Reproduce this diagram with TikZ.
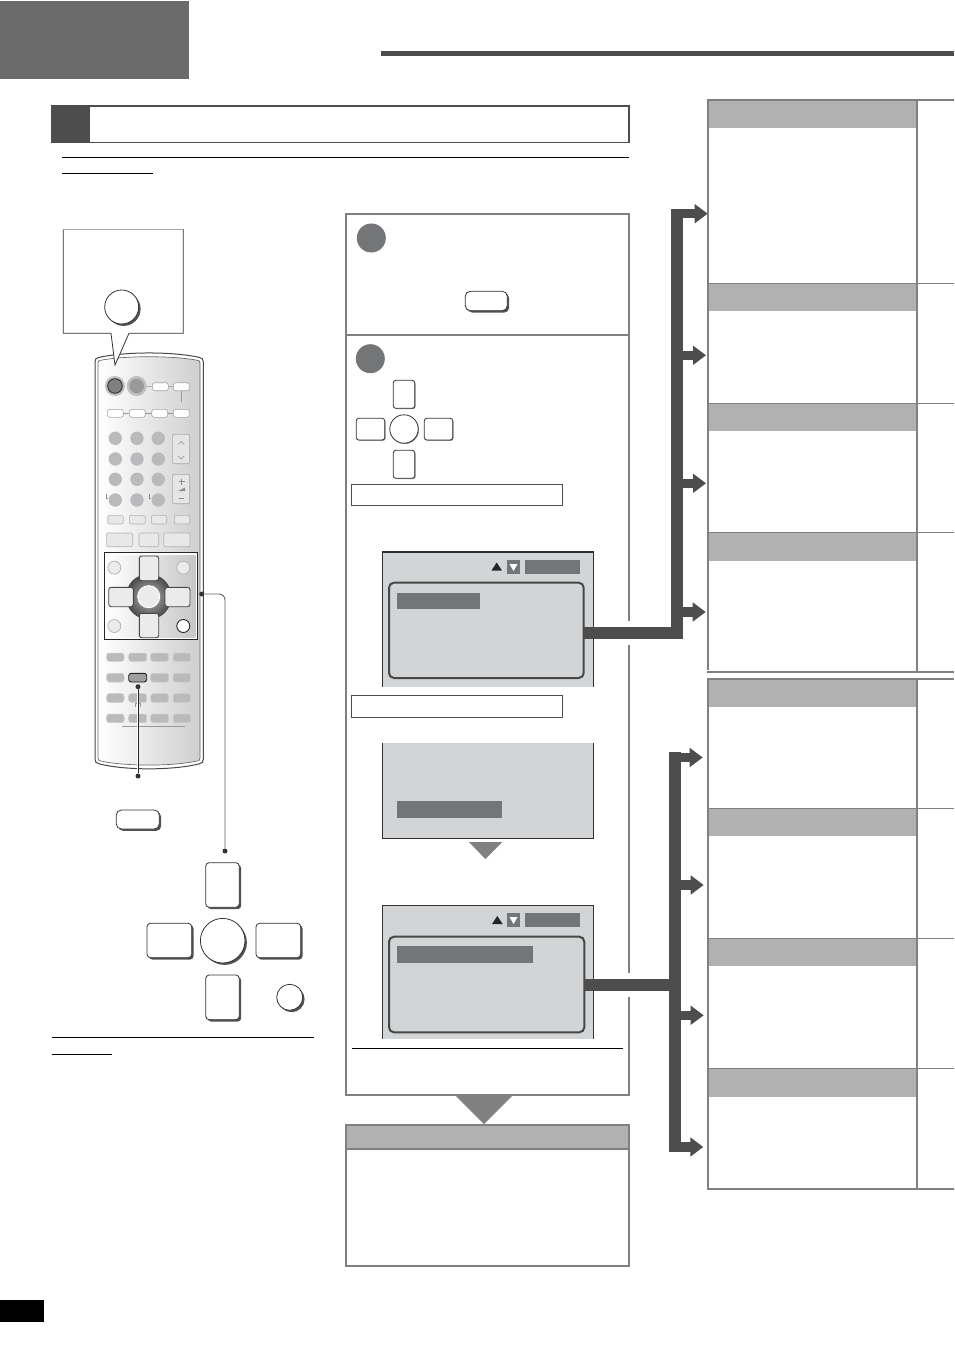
\documentclass[tikz,border=0pt]{standalone}
\usetikzlibrary{shadows,arrows.meta,calc}
\definecolor{dkbar}{HTML}{4D4D4D}
\definecolor{pnl}{HTML}{808080}
\definecolor{hdr}{HTML}{B1B1B1}
\definecolor{scr}{HTML}{D3D4D6}
\definecolor{hil}{HTML}{747577}
\definecolor{rmgray}{HTML}{B9BABC}
\tikzset{
  pxrect/.style={rectangle,inner sep=0pt,outer sep=0pt},
  panel/.style={draw=pnl,line width=2pt,fill=white},
  headband/.style={fill=hdr},
  shbtn/.style={draw=black!80,line width=.8pt,fill=white,rounded corners=3.5pt,drop shadow={shadow xshift=1.9pt,shadow yshift=-1.9pt,fill=black!68,opacity=1}},
  shcirc/.style={circle,inner sep=0pt,outer sep=0pt,draw=black!80,line width=.8pt,fill=white,drop shadow={shadow xshift=1.9pt,shadow yshift=-1.9pt,fill=black!68,opacity=1}},
  tinybtn/.style={draw=black!80,line width=.8pt,fill=white,rounded corners=2.5pt,drop shadow={shadow xshift=.8pt,shadow yshift=-.8pt,fill=black!45,opacity=1}},
  tinycirc/.style={circle,inner sep=0pt,outer sep=0pt,draw=black!80,line width=.8pt,fill=white,drop shadow={shadow xshift=.8pt,shadow yshift=-.8pt,fill=black!45,opacity=1}},
  labelbox/.style={draw=dkbar,line width=1.3pt,fill=white},
  whitepill/.style={draw=black!35,line width=.6pt,fill=white,rounded corners=2.5pt},
  softbtn/.style={draw=black!30,line width=.6pt,fill=black!9,rounded corners=2pt},
  graybtn/.style={draw=black!20,line width=.5pt,fill=rmgray,rounded corners=2.5pt},
  padbtn/.style={draw=black!72,line width=.9pt,fill=black!8,rounded corners=2.5pt},
  rmcirc/.style={circle,inner sep=0pt,outer sep=0pt,fill=rmgray},
  thinlink/.style={draw=black!40,line width=.5pt},
  bus/.style={draw=dkbar,line width=12pt,line join=miter},
  armstem/.style={draw=dkbar,fill=dkbar,line width=9.3pt,-{Triangle[length=13pt,width=18.5pt,fill=dkbar]}},
  dotend/.style={circle,fill=black!80,inner sep=0pt,minimum size=5pt},
  barfill/.style={fill=hil},
  scrn/.style={fill=scr},
  scredge/.style={draw=black!82,line width=1.5pt},
  innerframe/.style={draw=black!72,line width=2pt,rounded corners=5pt},
}
\newcommand{\pxbox}[6][]{%
  \pgfmathsetmacro\pxw{#5-#3}\pgfmathsetmacro\pxh{#6-#4}%
  \node[pxrect,#1,minimum width=\pxw pt,minimum height=\pxh pt] (#2) at ({(#3+#5)/2},{(#4+#6)/2}) {};}
\newcommand{\pxcirc}[5][]{%
  \pgfmathsetmacro\pxd{2*#5}%
  \node[circle,inner sep=0pt,outer sep=0pt,minimum size=\pxd pt,#1] (#2) at (#3,#4) {};}
\begin{document}
\begin{tikzpicture}[x=1pt,y=-1pt]
\useasboundingbox (0,0) rectangle (954,1348);
% header
\pxbox[fill=black!58]{tab}{0}{1}{189}{79}
\pxbox[fill=dkbar]{toprule}{381}{51}{954}{56}
\pxbox[fill=white]{title}{51}{105}{629}{143}
\draw[dkbar,line width=2pt] (51,106)--(630,106);
\draw[dkbar,line width=1pt] (51,142.5)--(630,142.5);
\draw[dkbar,line width=2pt] (629,105)--(629,143);
\pxbox[fill=dkbar]{titlesq}{51}{105}{90}{143}
\draw[black,line width=1pt] (62,158)--(629,158);
\draw[black,line width=1pt] (62,174)--(153,174);
\pxbox[fill=black]{pageno}{0}{1300}{44}{1322}
% remote body
\fill[white,draw=black!72,line width=1pt]
  (95,362) .. controls (95,359) and (96,358) .. (99,357.4) .. controls (125,351.5) and (173,351.5) .. (199.3,357.4) .. controls (202.3,358) and (203.3,359) .. (203.3,362) -- (203.3,759) .. controls (203.3,762) and (202.3,763) .. (199.3,763.8) .. controls (173,770.5) and (125,770.5) .. (99,763.8) .. controls (96,763) and (95,762) .. (95,759) -- cycle;
\shade[left color=white,middle color=black!15,right color=black!19,draw=black!58,line width=.7pt]
  (98,363) .. controls (98,361) and (99,360.6) .. (100,360.4) .. controls (125,355.5) and (173,355.5) .. (198,360.4) .. controls (199,360.6) and (200,361) .. (200,363) -- (200,758) .. controls (200,760) and (199,760.5) .. (198,760.8) .. controls (173,766.5) and (125,766.5) .. (100,760.8) .. controls (99,760.5) and (98,760) .. (98,758) -- cycle;
% callout
\draw[fill=white,draw=black!80,line width=.8pt] (63.3,333.3)--(63.3,229.5)--(183.3,229.5)--(183.3,333.3)--(129,333.3)--(115,365)--(111,333.3)--cycle;
\draw[black!35,line width=1.4pt] (63.3,229.5)--(183.3,229.5);
\pxcirc[shcirc]{callbtn}{121.7}{307}{17}
% top buttons
\pxcirc[fill=black!25]{halo1}{115}{386}{10}
\pxcirc[fill=black!50,draw=black!85,line width=.8pt]{pow}{115}{386}{7.3}
\pxcirc[fill=black!25]{halo2}{136.7}{386}{10}
\pxcirc[fill=black!40]{pow2}{136.7}{386}{7.3}
\pxbox[whitepill]{pa}{152.3}{382.7}{168.3}{390.7}
\pxbox[whitepill]{pb}{173.3}{382.7}{189.3}{390.7}
\draw[thinlink] (halo2)--(pa) (pa)--(pb);
\coordinate (pbdrop) at (181.3,401.7);
\draw[thinlink] (pb.south)--(pbdrop);
\pxbox[whitepill]{qa}{107.3}{409.3}{123.3}{417.3}
\pxbox[whitepill]{qb}{129.3}{409.3}{145.3}{417.3}
\pxbox[whitepill]{qc}{151.7}{409.3}{167.7}{417.3}
\pxbox[whitepill]{qd}{173.3}{409.3}{189.3}{417.3}
\draw[thinlink] (qa)--(qb) (qb)--(qc) (qc)--(qd);
% number pad
\foreach \cx in {115.3,137,158.3}{\foreach \cy in {438.3,459,479.3,500}{
  \node[rmcirc,minimum size=13.4pt] (num\cx-\cy) at (\cx,\cy) {};}}
\draw[black!45,line width=.5pt] (106.7,494)--(106.7,498)--(108,498);
\draw[black!45,line width=.5pt] (149.3,494)--(149.3,498)--(150.6,498);
\pxbox[fill=black!10,draw=black!35,line width=.6pt,rounded corners=2pt]{rk1}{172.3}{434.3}{189.7}{463.7}
\pxbox[fill=black!10,draw=black!35,line width=.6pt,rounded corners=2pt]{rk2}{172.3}{474.3}{189.7}{503.7}
\draw[black!45,line width=.6pt] (178.3,444.5)--(181.3,441.5)--(184.3,444.5);
\draw[black!45,line width=.6pt] (178.3,456)--(181.3,459)--(184.3,456);
\draw[black!45,line width=.6pt] (178.7,481.7)--(184.7,481.7) (181.7,478.7)--(181.7,484.7);
\fill[black!45] (178,491)--(185,487.5)--(185,491)--cycle;
\draw[black!45,line width=.6pt] (179.2,498.3)--(184.2,498.3);
% small rows
\pxbox[softbtn]{ra}{107.7}{515.3}{123.3}{524}
\pxbox[softbtn]{rb}{129.3}{515.3}{145.3}{524}
\pxbox[softbtn]{rc}{151.3}{515.3}{166.7}{524}
\pxbox[softbtn]{rd}{174.3}{515.3}{189.7}{524}
\pxbox[softbtn]{sa}{106.3}{533}{132.7}{546.7}
\pxbox[softbtn]{sb}{139}{533}{158.7}{546.7}
\pxbox[softbtn]{sc}{163.7}{533}{190}{546.7}
% nav pad
\pxbox[draw=black!85,line width=1pt,fill=white]{padframe}{104.3}{552.3}{197.7}{639.3}
\shade[left color=white,right color=black!22] (107.3,555) rectangle (195.3,637.3);
\node[circle,inner sep=0pt,minimum size=45.6pt,draw=none,inner color=black!25,outer color=black!72] (ring) at (148.7,596.7) {};
\pxcirc[fill=black!8,draw=white,line width=1pt]{okbtn}{148.7}{596.7}{11}
\pxbox[padbtn]{up}{139.3}{556}{158.7}{580.7}
\pxbox[padbtn]{lf}{108.7}{587.3}{133.3}{606.7}
\pxbox[padbtn]{rt}{165}{587.3}{190}{606.7}
\pxbox[padbtn]{dn}{139.3}{613.3}{158.7}{637.7}
\pxcirc[fill=black!8,draw=black!30,line width=.7pt]{ca}{114.3}{567.7}{6.5}
\pxcirc[fill=black!8,draw=black!30,line width=.7pt]{cb}{183.3}{567.7}{6.5}
\pxcirc[fill=black!8,draw=black!30,line width=.7pt]{cc}{114.3}{626}{6.5}
\pxcirc[fill=white,draw=black!85,line width=.9pt]{cd}{183.3}{626}{6.5}
% lower button rows
\pxbox[draw=black!15,line width=.6pt,rounded corners=1.5pt]{faint}{171.3}{642}{197.7}{663.3}
\foreach \rowt/\rowb/\rn in {653/661.3/1,673.3/682/2,693.7/702.3/3,714/722.7/4}{
  \pxbox[graybtn]{g\rn a}{106.7}{\rowt}{124}{\rowb}
  \pxbox[graybtn]{g\rn b}{128.7}{\rowt}{146.7}{\rowb}
  \pxbox[graybtn]{g\rn c}{150.7}{\rowt}{168.7}{\rowb}
  \pxbox[graybtn]{g\rn d}{173}{\rowt}{190.7}{\rowb}
}
\pxbox[draw=black!85,line width=.9pt,fill=black!38,rounded corners=2.5pt]{active}{128.7}{673.3}{146.7}{682}
\draw[black!40,line width=.5pt] (122,726)--(185,726);
\draw[black!40,line width=.4pt] (135,706.5)--(135,703)--(136.5,703) (140,706.5)--(140,703)--(138.5,703);
% remote connectors
\node[dotend] (dotA) at (138,686.7) {};
\node[dotend] (dotB) at (138,776) {};
\draw[white,line width=2.4pt] (dotA)--(dotB);
\draw[black!85,line width=1pt] (dotA)--(dotB);
\pxbox[shbtn,rounded corners=5pt]{menubtn}{116.3}{810}{159.3}{829}
\node[dotend] (dotC) at (201.7,594) {};
\node[dotend] (dotD) at (225,851) {};
\draw[black!62,line width=.9pt,rounded corners=6pt] (dotC)-|(dotD);
% big cross
\pxbox[shbtn]{bigup}{205.7}{862.7}{239.3}{907.3}
\pxbox[shbtn]{biglf}{147}{923.3}{191.7}{957.7}
\pxbox[shbtn]{bigrt}{256}{923.3}{300.7}{957.7}
\pxbox[shbtn]{bigdn}{205.7}{975}{239.3}{1019.7}
\pxcirc[shcirc]{bigok}{222.7}{940.7}{22.3}
\pxcirc[shcirc]{bigsm}{289.7}{997.3}{13}
\draw[black,line width=1pt] (52,1037.3)--(314,1037.3);
\draw[black,line width=1pt] (52,1054.5)--(112,1054.5);
% main panel
\pxbox[panel]{panelA}{346}{214}{629.3}{335}
\pxbox[panel]{panelB}{346}{335}{629.3}{1095.3}
\pxcirc[fill=hil]{stepa}{371.3}{238}{14.5}
\pxcirc[fill=hil]{stepb}{370.3}{358.7}{14.5}
\pxbox[shbtn,rounded corners=5pt]{pillA}{465.3}{291.3}{507.3}{310.7}
\pxbox[tinybtn]{crup}{393.3}{380.3}{414.7}{408.3}
\pxbox[tinybtn]{crlf}{356.3}{418.3}{384.7}{440}
\pxbox[tinybtn]{crrt}{424.3}{418.3}{452.7}{440}
\pxbox[tinybtn]{crdn}{393.3}{450.3}{414.7}{478.3}
\pxcirc[tinycirc]{crok}{404}{429}{14.2}
\pxbox[labelbox]{labA}{351.7}{484.7}{562.3}{505.3}
\pxbox[labelbox]{labB}{351.7}{695.7}{562.3}{717.3}
% screen 1
\pxbox[scrn]{scrA}{382.7}{552}{593.3}{687.3}
\draw[scredge] (scrA.south west)--(scrA.north west)--(scrA.north east)--(scrA.south east);
\fill[black!85] (491.5,570.5)--(496.7,562.5)--(501.9,570.5)--cycle;
\pxbox[barfill]{boxA}{507}{560}{520}{573.7}
\fill[white] (509.5,564)--(517.5,564)--(513.5,571)--cycle;
\pxbox[barfill]{tagA}{525}{560}{580}{573.7}
\pxbox[innerframe]{frameA}{389}{582.7}{583.7}{678}
\pxbox[barfill]{hiA}{397}{593}{480}{609}
% screen 2
\pxbox[scrn]{scrB}{382.7}{743}{593.3}{838.3}
\draw[scredge] (scrB.north west)--(scrB.south west)--(scrB.south east)--(scrB.north east);
\pxbox[barfill]{hiB}{397}{801}{502}{818}
\fill[pnl] (469,842)--(502.3,842)--(485.3,859)--cycle;
% screen 3
\pxbox[scrn]{scrC}{382.7}{905.3}{593.3}{1038.7}
\draw[black!80,line width=.9pt] (scrC.south west)--(scrC.north west)--(scrC.north east)--(scrC.south east);
\fill[black!85] (492,924)--(497.3,916)--(502.6,924)--cycle;
\pxbox[barfill]{boxC}{507}{913}{520}{926.7}
\fill[white] (509.5,917)--(517.5,917)--(513.5,924)--cycle;
\pxbox[barfill]{tagC}{525}{913}{580}{926.7}
\pxbox[innerframe]{frameC}{389}{936.7}{584.3}{1032.3}
\pxbox[barfill]{hiC}{397}{946}{533}{963}
\draw[black,line width=1pt] (351.5,1048.5)--(623,1048.5);
% big triangle and lower box
\pxbox[panel]{result}{346}{1125}{629.3}{1266}
\pxbox[headband,draw=pnl,line width=2pt]{resulthd}{346}{1125}{629.3}{1149}
\fill[pnl] (454,1094)--(514,1094)--(484,1124)--cycle;
% right tables
\pxbox[headband]{hA1}{709.3}{101}{916}{127.7}
\pxbox[headband]{hA2}{709.3}{283.3}{916}{311}
\pxbox[headband]{hA3}{709.3}{403.3}{916}{431}
\pxbox[headband]{hA4}{709.3}{532.3}{916}{561}
\draw[pnl,line width=2pt] (954,100)--(708.3,100)--(708.3,670);
\draw[pnl,line width=1pt] (708.3,283.3)--(954,283.3) (708.3,403.3)--(954,403.3) (708.3,532.3)--(954,532.3);
\draw[pnl,line width=2pt] (917,100)--(917,672);
\draw[pnl,line width=2pt] (707,672)--(954,672);
\pxbox[headband]{hB1}{709.3}{680}{916}{706.7}
\pxbox[headband]{hB2}{709.3}{808}{916}{836}
\pxbox[headband]{hB3}{709.3}{938}{916}{966}
\pxbox[headband]{hB4}{709.3}{1068}{916}{1097}
\draw[pnl,line width=2pt] (954,679)--(708.3,679)--(708.3,1189)--(954,1189);
\draw[pnl,line width=1pt] (708.3,808)--(954,808) (708.3,938)--(954,938) (708.3,1068)--(954,1068);
\draw[pnl,line width=2pt] (917,679)--(917,1189);
% buses
\coordinate (busAtop) at (677,209);
\coordinate (busAmid) at (677,633);
\draw[white,line width=24pt] (625,633)--(633.5,633);
\draw[bus] (frameA.east |- busAmid)--(busAmid)--(busAtop);
\coordinate (aS1) at (683,213.7);\coordinate (aT1) at (707.7,213.7);
\coordinate (aS2) at (683,355.3);\coordinate (aT2) at (706,355.3);
\coordinate (aS3) at (683,483.3);\coordinate (aT3) at (706,483.3);
\coordinate (aS4) at (683,612);\coordinate (aT4) at (705.7,612);
\foreach \n in {1,2,3,4}{\draw[armstem] (aS\n)--(aT\n);}
\coordinate (busBtop) at (675,752);
\coordinate (busBbot) at (675,1152);
\coordinate (busBmid) at (675,985);
\draw[white,line width=24pt] (625,985)--(633.5,985);
\draw[bus] (busBtop)--(busBbot);
\draw[bus] (frameC.east |- busBmid)--(busBmid);
\coordinate (bS1) at (681,757.5);\coordinate (bT1) at (702.7,757.5);
\coordinate (bS2) at (681,885);\coordinate (bT2) at (703.7,885);
\coordinate (bS3) at (681,1015.3);\coordinate (bT3) at (703.7,1015.3);
\coordinate (bS4) at (681,1147);\coordinate (bT4) at (703.3,1147);
\foreach \n in {1,2,3,4}{\draw[armstem] (bS\n)--(bT\n);}
\end{tikzpicture}
\end{document}
